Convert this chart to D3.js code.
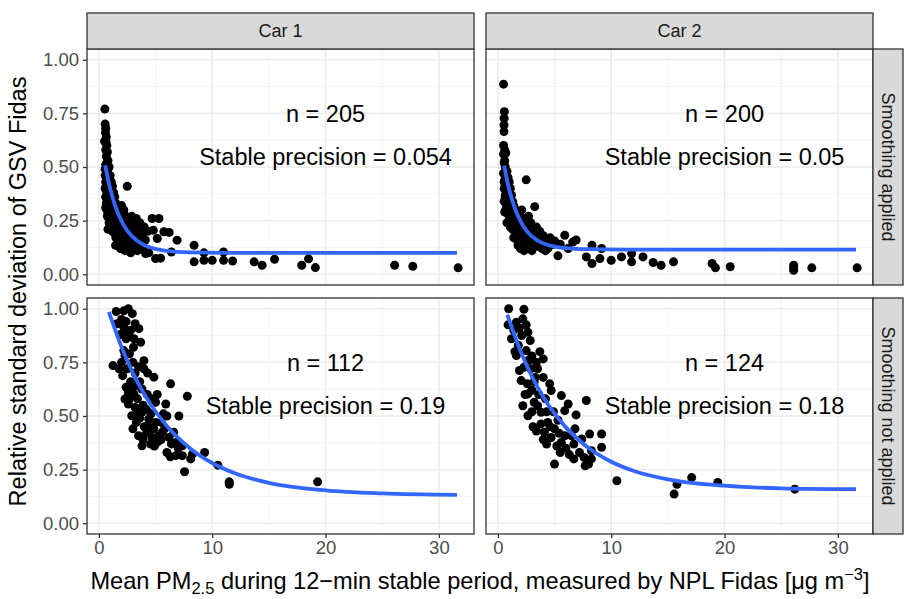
<!DOCTYPE html>
<html>
<head>
<meta charset="utf-8">
<script src="https://cdn.jsdelivr.net/npm/d3@7"></script>
<style>
  body { margin: 0; background: #fff; }
  text { font-family: "Liberation Sans", Arial, Helvetica, sans-serif; }
</style>
</head>
<body>
<div id="chart"></div>
<script>
// facets
var cars = ['Car 1', 'Car 2'];
var rows = ['Smoothing applied', 'Smoothing not applied'];
var xTicks = [0, 10, 20, 30];
var yTicks = [0, 0.25, 0.5, 0.75, 1];
var xMinor = [5, 15, 25];
var yMinor = [0.125, 0.375, 0.625, 0.875];

// points [mean PM2.5, relative sd]
var car1Smooth = [[0.53,0.77],[0.55,0.70],[0.6,0.68],[0.58,0.66],[0.65,0.64],[0.62,0.62],[0.7,0.60],[0.6,0.58],[0.75,0.57],[0.65,0.55],
  [0.8,0.53],[0.6,0.51],[0.9,0.50],[0.7,0.48],[0.55,0.46],[0.85,0.45],[1.0,0.46],[0.6,0.43],[0.75,0.42],[1.1,0.43],
  [0.55,0.40],[0.9,0.40],[1.2,0.41],[0.7,0.38],[1.0,0.37],[0.6,0.36],[1.3,0.38],[0.85,0.35],[1.15,0.34],[0.65,0.33],
  [1.4,0.36],[0.95,0.32],[1.25,0.31],[0.7,0.30],[1.5,0.33],[1.05,0.29],[0.8,0.28],[1.35,0.28],[1.6,0.30],[0.9,0.26],
  [1.2,0.25],[1.7,0.28],[1.45,0.26],[1.0,0.23],[0.8,0.21],[1.3,0.22],[1.6,0.24],[1.9,0.27],[2.5,0.41],[2.0,0.32],
  [2.2,0.30],[1.8,0.22],[2.1,0.25],[2.4,0.27],[2.3,0.22],[2.6,0.25],[2.0,0.19],[2.8,0.23],[2.5,0.20],[3.0,0.24],
  [2.7,0.18],[3.2,0.21],[2.2,0.16],[2.9,0.16],[3.4,0.22],[3.1,0.18],[3.6,0.20],[2.4,0.14],[3.3,0.15],[3.8,0.18],
  [3.5,0.16],[4.0,0.22],[3.7,0.13],[4.1,0.16],[1.5,0.17],[1.7,0.14],[1.47,0.135],[1.9,0.12],[2.1,0.13],[2.6,0.12],
  [2.3,0.11],[3.0,0.12],[2.8,0.10],[3.4,0.11],[3.9,0.12],[4.12,0.097],[4.4,0.10],[5.0,0.073],[5.45,0.075],[4.7,0.26],
  [5.3,0.26],[4.8,0.205],[5.15,0.167],[5.74,0.198],[6.2,0.195],[6.4,0.104],[6.9,0.159],[8.4,0.135],[8.4,0.058],[9.27,0.065],
  [9.27,0.10],[10.0,0.065],[11.0,0.104],[11.0,0.065],[11.8,0.062],[13.7,0.058],[14.4,0.042],[15.5,0.07],[17.9,0.042],[18.5,0.072],
  [19.1,0.031],[26.1,0.042],[27.7,0.037],[31.7,0.03],
  [0.5,0.62],[0.7,0.52],[0.55,0.49],[0.8,0.44],[0.65,0.41],[0.9,0.37],[0.6,0.31],[0.75,0.27],[0.9,0.24],[1.1,0.28],
  [1.3,0.26],[1.2,0.20],[1.4,0.19],[1.6,0.21],[1.8,0.25],[2.0,0.27],[2.2,0.24],[2.4,0.18],[2.6,0.16],[2.8,0.20],
  [3.0,0.15],[3.2,0.13],[3.5,0.12],[3.6,0.24],[3.8,0.15],[4.3,0.20],[2.0,0.15],[1.7,0.17],[2.9,0.27],[3.3,0.26]];

var car2Smooth = [[0.5,0.886],[0.57,0.758],[0.55,0.727],[0.54,0.696],[0.54,0.665],[0.5,0.60],[0.6,0.58],[0.7,0.565],[0.55,0.52],[0.65,0.50],
  [0.8,0.48],[0.5,0.47],[0.9,0.45],[0.6,0.44],[0.75,0.42],[1.0,0.43],[0.55,0.40],[0.85,0.39],[1.1,0.40],[0.65,0.37],
  [1.2,0.37],[0.95,0.35],[0.55,0.34],[1.3,0.34],[0.75,0.32],[1.05,0.31],[1.4,0.32],[0.6,0.29],[0.9,0.28],[1.2,0.28],
  [1.55,0.30],[2.5,0.44],[3.25,0.315],[1.7,0.27],[1.0,0.25],[1.35,0.25],[1.9,0.28],[2.1,0.30],[2.3,0.26],[1.6,0.23],
  [2.0,0.23],[2.7,0.27],[2.4,0.22],[1.8,0.20],[2.9,0.24],[2.2,0.19],[3.0,0.21],[2.6,0.18],[3.4,0.22],[3.1,0.17],
  [3.7,0.20],[2.8,0.15],[3.5,0.15],[4.0,0.18],[3.3,0.13],[4.3,0.16],[3.9,0.12],[4.6,0.17],[4.2,0.11],[4.9,0.14],
  [1.77,0.135],[2.1,0.15],[2.5,0.128],[3.0,0.11],[4.5,0.13],[5.3,0.086],[5.0,0.155],[5.5,0.14],[5.9,0.182],[6.6,0.15],
  [6.9,0.16],[6.2,0.12],[7.8,0.081],[8.3,0.135],[8.3,0.05],[9.15,0.12],[9.0,0.073],[10,0.065],[10.9,0.081],[11.8,0.097],
  [11.8,0.058],[12.8,0.081],[13.7,0.055],[14.4,0.042],[15.5,0.058],[18.9,0.05],[19.2,0.03],[20.5,0.035],[26.1,0.042],[26.1,0.019],
  [26.1,0.03],[27.7,0.03],[31.7,0.03],
  [0.5,0.56],[0.6,0.53],[0.7,0.46],[0.55,0.43],[0.8,0.40],[0.65,0.36],[0.9,0.33],[0.7,0.30],[1.0,0.27],[0.8,0.24],
  [1.1,0.22],[1.3,0.21],[1.5,0.20],[1.4,0.17],[1.7,0.16],[1.9,0.18],[2.2,0.21],[2.4,0.17],[2.6,0.15],[2.8,0.19],
  [3.2,0.16],[3.6,0.13],[3.8,0.16],[4.1,0.14],[4.4,0.12],[2.0,0.12],[2.3,0.11],[3.4,0.18],[1.6,0.26],[1.2,0.31]];

var car1Raw = [[1.53,0.987],[2.6,1.0],[2.2,0.99],[2.95,0.977],[2.0,0.95],[2.4,0.94],[3.2,0.93],[2.2,0.914],[3.53,0.907],[2.8,0.90],
  [2.65,0.875],[1.9,0.88],[3.68,0.844],[3.05,0.82],[2.2,0.805],[2.3,0.782],[2.7,0.79],[1.24,0.735],[1.78,0.72],[2.1,0.688],
  [3.97,0.758],[3.97,0.72],[3.5,0.73],[3.2,0.70],[4.3,0.70],[4.85,0.681],[6.33,0.65],[7.8,0.592],[2.4,0.634],[2.9,0.626],
  [2.3,0.579],[2.6,0.556],[3.1,0.60],[3.8,0.626],[4.27,0.60],[5.15,0.60],[5.0,0.564],[3.4,0.58],[4.6,0.58],[5.9,0.556],
  [5.7,0.51],[6.0,0.50],[7.06,0.50],[2.9,0.501],[3.8,0.518],[4.4,0.486],[3.3,0.47],[4.0,0.45],[3.5,0.408],[3.8,0.361],
  [4.56,0.369],[4.3,0.455],[4.85,0.44],[5.3,0.408],[5.6,0.424],[5.0,0.47],[4.7,0.40],[5.2,0.38],[6.6,0.424],[6.8,0.377],
  [7.36,0.361],[6.8,0.315],[7.36,0.315],[8.1,0.30],[8.25,0.322],[7.56,0.24],[9.33,0.33],[10.5,0.271],[11.5,0.193],[11.5,0.182],
  [19.3,0.193],[6.2,0.40],[5.8,0.44],[6.4,0.37],[7.0,0.35],[3.2,0.54],[3.6,0.49],[2.8,0.66],[3.3,0.64],[2.5,0.72],
  [1.6,0.93],[2.4,0.86],[3.1,0.86],[4.2,0.53],[4.6,0.51],[5.5,0.47],
  [2.5,0.88],[3.0,0.75],[2.0,0.75],[3.6,0.66],[2.7,0.58],[3.4,0.52],[3.9,0.55],[4.2,0.42],[3.9,0.39],[4.5,0.43],
  [4.9,0.36],[5.5,0.39],[6.0,0.33],[6.3,0.31],[3.0,0.44],[2.6,0.61]];

var car2Raw = [[0.95,1.0],[2.3,0.997],[0.9,0.925],[1.63,0.937],[2.2,0.953],[2.5,0.925],[2.65,0.89],[2.1,0.875],[2.85,0.852],[1.4,0.90],
  [1.9,0.91],[1.63,0.782],[2.5,0.805],[3.7,0.80],[4.0,0.766],[3.4,0.75],[1.9,0.712],[2.3,0.727],[3.5,0.72],[3.0,0.78],
  [1.5,0.80],[2.05,0.665],[2.6,0.65],[4.0,0.68],[4.57,0.65],[4.7,0.619],[2.65,0.603],[2.2,0.548],[3.2,0.564],[3.5,0.548],
  [3.8,0.517],[2.65,0.501],[5.6,0.595],[6.2,0.556],[5.9,0.525],[6.9,0.505],[7.8,0.572],[3.8,0.463],[4.4,0.47],[5.0,0.44],
  [4.1,0.424],[4.7,0.40],[4.3,0.369],[5.6,0.377],[5.9,0.408],[6.5,0.408],[6.7,0.369],[7.4,0.393],[8.1,0.416],[9.15,0.416],
  [9.15,0.354],[8.25,0.338],[6.7,0.30],[7.6,0.307],[7.7,0.268],[8.0,0.276],[8.25,0.30],[5.0,0.276],[10.5,0.198],[15.55,0.136],
  [15.8,0.182],[17.1,0.213],[19.4,0.19],[26.2,0.159],[3.0,0.62],[3.3,0.68],[4.2,0.58],[4.9,0.52],[5.3,0.48],[3.1,0.45],
  [5.2,0.36],[6.0,0.35],[2.9,0.72],[3.6,0.60],[1.2,0.86],
  [1.8,0.83],[2.7,0.76],[3.2,0.66],[2.4,0.60],[3.0,0.52],[4.3,0.52],[4.6,0.45],[5.4,0.42],[5.5,0.33],[6.3,0.32],
  [7.2,0.33],[4.0,0.39],[6.8,0.44],[3.4,0.43]];

// fitted curves
var car1SmoothFit = [[0.55,0.508],[1,0.398],[1.5,0.31],[2,0.248],[2.5,0.204],[3,0.173],[4,0.136],[5,0.118],[6,0.109],[8,0.102],[12,0.1],[20,0.1],[31.6,0.1]];
var car2SmoothFit = [[0.55,0.506],[1,0.394],[1.5,0.307],[2,0.247],[2.5,0.205],[3,0.177],[4,0.144],[5,0.129],[6,0.122],[8,0.117],[12,0.115],[20,0.115],[31.6,0.115]];
var car1RawFit = [[0.88,0.985],[2,0.821],[3,0.701],[4,0.602],[5,0.521],[6,0.453],[8,0.351],[10,0.281],[12,0.233],[15,0.188],[20,0.153],[25,0.139],[31.6,0.1325]];
var car2RawFit = [[0.83,0.972],[2,0.802],[3,0.685],[4,0.589],[5,0.511],[6,0.447],[8,0.351],[10,0.287],[12,0.244],[15,0.205],[20,0.175],[25,0.163],[31.6,0.159]];

var nLabels = ['n = 205', 'n = 200', 'n = 112', 'n = 124'];
var precLabels = ['Stable precision = 0.054', 'Stable precision = 0.05', 'Stable precision = 0.19', 'Stable precision = 0.18'];

var panels = [
  {row: 0, col: 0, pts: car1Smooth, fit: car1SmoothFit, n: nLabels[0], p: precLabels[0]},
  {row: 0, col: 1, pts: car2Smooth, fit: car2SmoothFit, n: nLabels[1], p: precLabels[1]},
  {row: 1, col: 0, pts: car1Raw, fit: car1RawFit, n: nLabels[2], p: precLabels[2]},
  {row: 1, col: 1, pts: car2Raw, fit: car2RawFit, n: nLabels[3], p: precLabels[3]}
];

var W = 904, H = 599;
var pw = 387, ph = 236;
var colX = [87, 486], rowY = [49, 298];

var svg = d3.select('#chart').append('svg').attr('width', W).attr('height', H);

var x = d3.scaleLinear().domain([-1.05, 33.1]).range([0, pw]);
var y = d3.scaleLinear().domain([-0.05, 1.05]).range([ph, 0]);

var line = d3.line().x(function (d) { return x(d[0]); }).y(function (d) { return y(d[1]); }).curve(d3.curveMonotoneX);

panels.forEach(function (p) {
  var g = svg.append('g').attr('transform', 'translate(' + colX[p.col] + ',' + rowY[p.row] + ')');
  g.append('rect').attr('width', pw).attr('height', ph).attr('fill', '#fff');

  // grid
  g.selectAll('.xminor').data(xMinor).enter().append('line')
    .attr('x1', x).attr('x2', x).attr('y1', 0).attr('y2', ph)
    .attr('stroke', '#f2f2f2').attr('stroke-width', 0.8);
  g.selectAll('.yminor').data(yMinor).enter().append('line')
    .attr('y1', y).attr('y2', y).attr('x1', 0).attr('x2', pw)
    .attr('stroke', '#f2f2f2').attr('stroke-width', 0.8);
  g.selectAll('.xmajor').data(xTicks).enter().append('line')
    .attr('x1', x).attr('x2', x).attr('y1', 0).attr('y2', ph)
    .attr('stroke', '#ebebeb').attr('stroke-width', 1.5);
  g.selectAll('.ymajor').data(yTicks).enter().append('line')
    .attr('y1', y).attr('y2', y).attr('x1', 0).attr('x2', pw)
    .attr('stroke', '#ebebeb').attr('stroke-width', 1.5);

  // points
  g.selectAll('.pt').data(p.pts).enter().append('circle')
    .attr('cx', function (d) { return x(d[0]); })
    .attr('cy', function (d) { return y(d[1]); })
    .attr('r', 4.5).attr('fill', '#000');

  // fit
  g.append('path').datum(p.fit).attr('d', line)
    .attr('fill', 'none').attr('stroke', '#3366FF').attr('stroke-width', 3.8);

  // labels
  g.append('text').attr('x', x(20)).attr('y', y(0.75)).attr('dy', '0.36em')
    .attr('text-anchor', 'middle').style('font-size', '23.5px').style('fill', '#000').text(p.n);
  g.append('text').attr('x', x(20)).attr('y', y(0.55)).attr('dy', '0.36em')
    .attr('text-anchor', 'middle').style('font-size', '23.5px').style('fill', '#000').text(p.p);

  g.append('rect').attr('width', pw).attr('height', ph)
    .attr('fill', 'none').attr('stroke', '#333333').attr('stroke-width', 1.3);

  // y axis on left column
  if (p.col === 0) {
    var ya = d3.axisLeft(y).tickValues(yTicks).tickSize(4).tickPadding(4).tickFormat(d3.format('.2f'));
    var yg = g.append('g').call(ya);
    yg.select('.domain').remove();
    yg.selectAll('line').attr('stroke', '#333333').attr('stroke-width', 1.3);
    yg.selectAll('text').style('font-size', '18.5px').style('fill', '#4d4d4d');
  }
  // x axis on bottom row
  if (p.row === 1) {
    var xa = d3.axisBottom(x).tickValues(xTicks).tickSize(4).tickPadding(3).tickFormat(d3.format('d'));
    var xg = g.append('g').attr('transform', 'translate(0,' + ph + ')').call(xa);
    xg.select('.domain').remove();
    xg.selectAll('line').attr('stroke', '#333333').attr('stroke-width', 1.3);
    xg.selectAll('text').style('font-size', '18.5px').style('fill', '#4d4d4d');
  }
});

// top strips
var stripH = 36;
cars.forEach(function (c, i) {
  var s = svg.append('g').attr('transform', 'translate(' + colX[i] + ',' + (rowY[0] - stripH) + ')');
  s.append('rect').attr('width', pw).attr('height', stripH)
    .attr('fill', '#d9d9d9').attr('stroke', '#333333').attr('stroke-width', 1.3);
  s.append('text').attr('x', pw / 2).attr('y', stripH / 2).attr('dy', '0.36em')
    .attr('text-anchor', 'middle').style('font-size', '18px').style('fill', '#1a1a1a').text(c);
});

// right strips
var stripW = 30;
rows.forEach(function (r, i) {
  var sx = colX[1] + pw;
  var s = svg.append('g').attr('transform', 'translate(' + sx + ',' + rowY[i] + ')');
  s.append('rect').attr('width', stripW).attr('height', ph)
    .attr('fill', '#d9d9d9').attr('stroke', '#333333').attr('stroke-width', 1.3);
  s.append('text').attr('transform', 'translate(' + (stripW / 2) + ',' + (ph / 2) + ') rotate(90)')
    .attr('dy', '0.36em').attr('text-anchor', 'middle')
    .style('font-size', '18px').style('fill', '#1a1a1a').text(r);
});

// axis titles
svg.append('text')
  .attr('transform', 'translate(18,' + ((rowY[0] + rowY[1] + ph) / 2) + ') rotate(-90)')
  .attr('dy', '0.36em').attr('text-anchor', 'middle').style('font-size', '23.5px').style('fill', '#000')
  .text('Relative standard deviation of GSV Fidas');

var xt = svg.append('text').attr('x', 480).attr('y', 589).attr('text-anchor', 'middle')
  .style('font-size', '23.6px').style('fill', '#000');
xt.append('tspan').text('Mean PM');
xt.append('tspan').attr('dy', 5).style('font-size', '16.5px').text('2.5');
xt.append('tspan').attr('dy', -5).text(' during 12\u2212min stable period, measured by NPL Fidas [\u03bcg m');
xt.append('tspan').attr('dy', -9).style('font-size', '16.5px').text('\u22123');
xt.append('tspan').attr('dy', 9).text(']');
</script>
</body>
</html>
